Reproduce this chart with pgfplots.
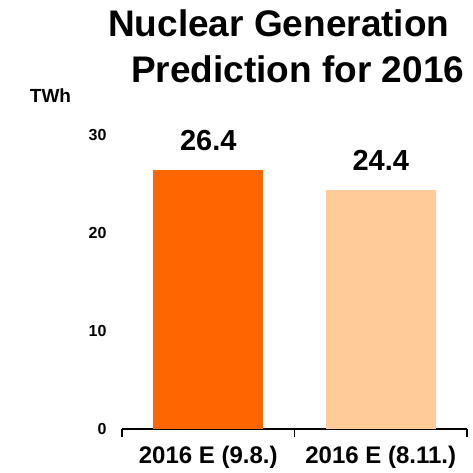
\documentclass[border=0pt]{standalone}
\usepackage{fontspec}
\setmainfont{Liberation Sans}
\usepackage{pgfplots}
\pgfplotsset{compat=1.18}
\definecolor{barA}{HTML}{FF6600}
\definecolor{barB}{HTML}{FFCC99}
\begin{document}
\begin{tikzpicture}[x=1pt,y=1pt]
\useasboundingbox (0,0) rectangle (473,472);
\begin{axis}[
    at={(122pt,43pt)}, anchor=south west,
    scale only axis, width=345pt, height=294pt,
    xmin=-0.5, xmax=1.5, ymin=0, ymax=30,
    axis lines*=left,
    clip=false,
    ybar, bar width=110pt, bar shift=0pt,
    x axis line style={line width=1.8pt},
    y axis line style={draw=none},
    ytick={0,10,20,30},
    ytick style={draw=none},
    yticklabel style={font=\bfseries\fontsize{16}{16}\selectfont, xshift=-4pt},
    xtick={-0.5,0.5,1.5},
    xticklabels={,,},
    xtick style={line width=1.8pt, black},
    tick align=outside,
    major tick length=8pt,
    extra x ticks={0,1},
    extra x tick labels={2016 E (9.8.),2016 E (8.11.)},
    extra x tick style={major tick length=0pt,
        xticklabel style={font=\bfseries\fontsize{24}{24}\selectfont, inner sep=1pt, yshift=-16pt}},
    /pgf/number format/assume math mode=true,
    nodes near coords,
    nodes near coords style={font=\bfseries\fontsize{29}{29}\selectfont, anchor=south, yshift=16pt,
        /pgf/number format/fixed, /pgf/number format/precision=1, /pgf/number format/fixed zerofill},
]
\addplot[fill=barA, draw=none] coordinates {(0,26.4)};
\addplot[fill=barB, draw=none] coordinates {(1,24.4)};
\end{axis}
\node[font=\bfseries\fontsize{37}{37}\selectfont, anchor=base west, inner sep=0] at (108,435) {Nuclear Generation};
\node[font=\bfseries\fontsize{37}{37}\selectfont, anchor=base west, inner sep=0] at (131,389) {Prediction for 2016};
\node[font=\bfseries\fontsize{19}{19}\selectfont, anchor=base, inner sep=0] at (50.5,369) {TWh};
\end{tikzpicture}
\end{document}
